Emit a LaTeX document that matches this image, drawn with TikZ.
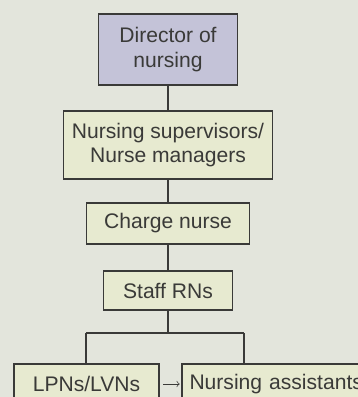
\documentclass[tikz,border=0pt]{standalone}
\usepackage{fontspec}
\setmainfont{Liberation Sans}
\definecolor{paper}{HTML}{E3E5DC}
\definecolor{topfill}{HTML}{C4C3D8}
\definecolor{boxfill}{HTML}{E7EAD0}
\definecolor{ink}{HTML}{3A3A38}

\begin{document}
\begin{tikzpicture}[x=0.02cm, y=-0.02cm,
            every node/.style={rectangle, draw=ink, line width=0.6pt, fill=boxfill, text=ink,
              align=center, inner sep=0pt, font=\fontsize{12}{14}\selectfont},
            edge_style/.style={draw=ink, line width=0.6pt}]
            \fill[paper] (0,0) rectangle (358,397);
            \clip (0,0) rectangle (358,397);
            \node[fill=topfill, minimum width=2.78cm, minimum height=1.42cm] (dir) at (168,49.5) {Director of\\nursing};
            \node[minimum width=4.18cm, minimum height=1.36cm] (sup) at (168,145) {Nursing supervisors/\\Nurse managers};
            \node[minimum width=3.26cm, minimum height=0.82cm] (charge) at (168,223.5) {Charge nurse};
            \node[minimum width=2.58cm, minimum height=0.78cm] (staff) at (168,290.5) {Staff RNs};
            \node[minimum width=2.90cm, minimum height=0.80cm] (lpn) at (86.5,384) {LPNs/LVNs};
            \node[minimum width=3.80cm, minimum height=0.80cm, text width=3.5cm, align=left] (na) at (277,384) {Nursing assistants};
            \coordinate (split) at (168,333);
            \coordinate (lpnup) at (86,333);
            \coordinate (naup) at (244,333);
            \draw[edge_style] (dir) edge[edge_style] (sup);
            \draw[edge_style] (sup) edge[edge_style] (charge);
            \draw[edge_style] (charge) edge[edge_style] (staff);
            \draw[edge_style] (staff) -- (split);
            \draw[edge_style] (lpnup) -- (naup);
            \draw[edge_style] (lpnup) -- (lpnup |- lpn.north);
            \draw[edge_style] (naup) -- (naup |- na.north);
            \draw[edge_style, line width=0.4pt, ->, shorten <=2pt, shorten >=1pt] (lpn.east) -- (na.west);
        \end{tikzpicture}
\end{document}
